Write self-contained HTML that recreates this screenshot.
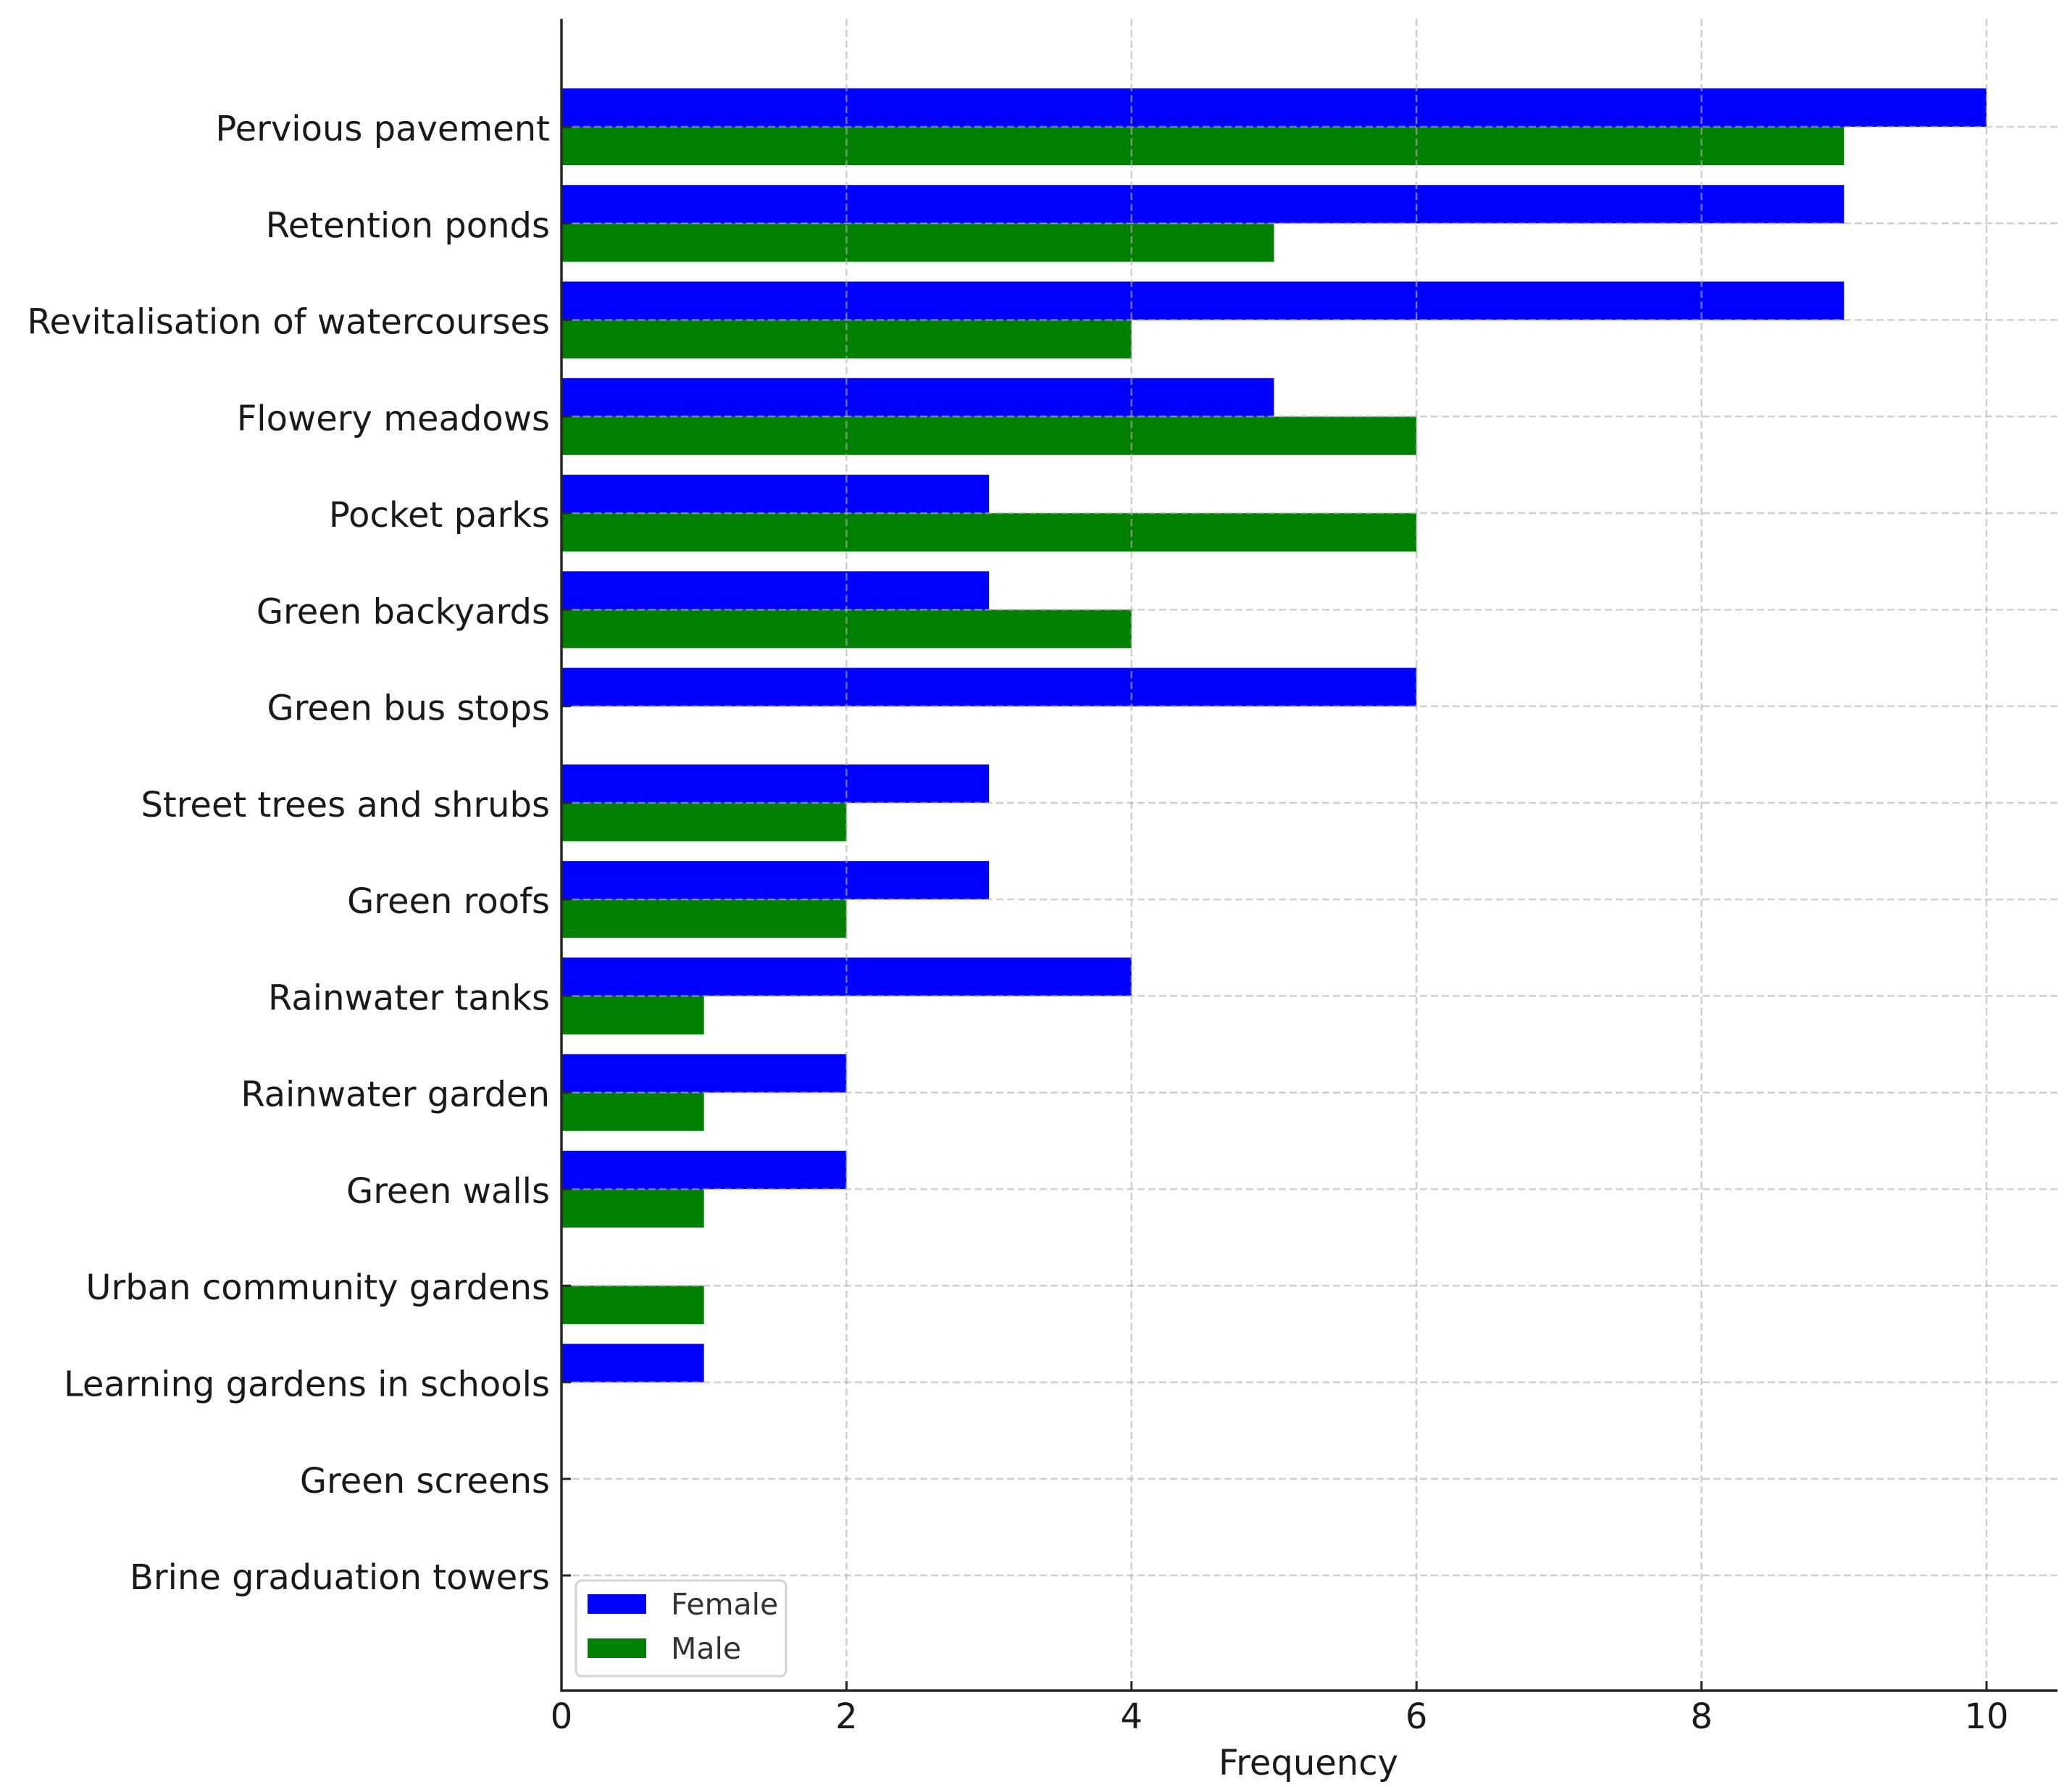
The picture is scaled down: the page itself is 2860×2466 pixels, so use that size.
<!DOCTYPE html>
<html><head><meta charset="utf-8"><style>
html,body{margin:0;padding:0;background:#fff}
svg{display:block}
text{font-family:"DejaVu Sans","Liberation Sans",sans-serif;fill:#1a1a1a}
</style></head><body>
<svg id="chart" width="2860" height="2466" viewBox="0 0 2860 2466" xmlns="http://www.w3.org/2000/svg">
<g id="bars"></g>
<g id="grid"></g>
<g id="axes"></g>
<text x="1806" y="2449" font-size="48" text-anchor="middle">Frequency</text>
<g>
<rect x="795" y="2181" width="290" height="132" rx="8" fill="#fff" fill-opacity="0.8" stroke="#d4d4d4" stroke-width="3"/>
<rect x="811" y="2200" width="81" height="27" fill="#0000ff"/>
<text x="926" y="2228" font-size="41" style="fill:#333">Female</text>
<rect x="811" y="2261" width="81" height="27" fill="#008000"/>
<text x="926" y="2289" font-size="41" style="fill:#333">Male</text>
</g>
</svg>
<script>
const categories=["Pervious pavement","Retention ponds","Revitalisation of watercourses","Flowery meadows","Pocket parks","Green backyards","Green bus stops","Street trees and shrubs","Green roofs","Rainwater tanks","Rainwater garden","Green walls","Urban community gardens","Learning gardens in schools","Green screens","Brine graduation towers"];
const femaleValues=[10,9,9,5,3,3,6,3,3,4,2,2,0,1,0,0];
const maleValues=[9,5,4,6,6,4,0,2,2,1,1,1,1,0,0,0];
const xTicks=[0,2,4,6,8,10];
const NS="http://www.w3.org/2000/svg";
const X0=775,UNIT=196.7,Y0=175,STEP=133.27,BH=53,TOP=26,BOT=2333,RIGHT=2840;
const xs=v=>X0+v*UNIT, ys=i=>Y0+i*STEP;
function mk(tag,attrs,parent){const e=document.createElementNS(NS,tag);for(const k in attrs)e.setAttribute(k,attrs[k]);parent.appendChild(e);return e;}
const bars=document.getElementById('bars'),grid=document.getElementById('grid'),axes=document.getElementById('axes');
categories.forEach((c,i)=>{
  const f=mk('rect',{x:X0,y:ys(i)-BH,width:xs(femaleValues[i])-X0,height:BH,fill:'#0000ff'},bars);
  
  
  const m=mk('rect',{x:X0,y:ys(i),width:xs(maleValues[i])-X0,height:BH,fill:'#008000'},bars);
  
  
  const g=mk('line',{x1:X0,x2:RIGHT,y1:ys(i),y2:ys(i),stroke:'#b0b0b0','stroke-opacity':0.6,'stroke-width':2.5,'stroke-dasharray':'10 5'},grid);
  
  
  const t=mk('line',{x1:X0,x2:X0+13,y1:ys(i),y2:ys(i),stroke:'#262626','stroke-width':3},axes);
  
  
  const l=mk('text',{x:759,y:ys(i)+19,'font-size':48,'text-anchor':'end'},axes);
  l.textContent=c;
  
  
});
xTicks.forEach(v=>{
  if(v>0){const g=mk('line',{x1:xs(v),x2:xs(v),y1:TOP,y2:BOT,stroke:'#b0b0b0','stroke-opacity':0.6,'stroke-width':2.5,'stroke-dasharray':'10 5'},grid);
  
  }
  const t=mk('line',{x1:xs(v),x2:xs(v),y1:BOT,y2:BOT-13,stroke:'#262626','stroke-width':3},axes);
  
  
  const l=mk('text',{x:xs(v),y:2385,'font-size':48,'text-anchor':'middle'},axes);
  l.textContent=v;
  
  
});
const ls=mk('line',{x1:X0,x2:X0,y1:TOP,y2:BOT+1.5,stroke:'#262626','stroke-width':3.5},axes);


const bs=mk('line',{x1:X0-1.5,x2:RIGHT,y1:BOT,y2:BOT,stroke:'#262626','stroke-width':3.5},axes);


</script>
</body></html>
